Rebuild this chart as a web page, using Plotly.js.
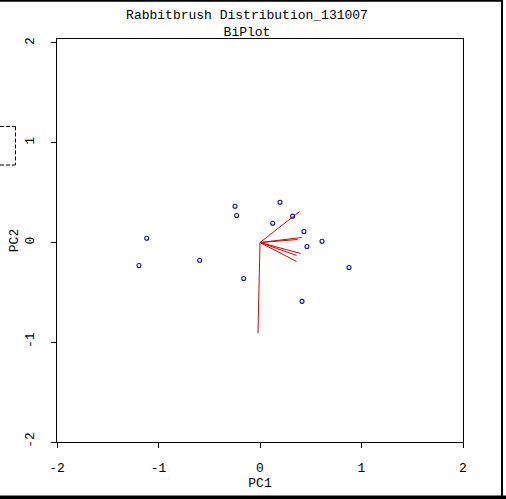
<!DOCTYPE html>
<html><head><meta charset="utf-8">
<script src="https://cdn.plot.ly/plotly-3.0.1.min.js"></script>
<style>html,body{margin:0;padding:0;background:#fff}#chart{width:506px;height:499px}</style>
</head><body><div id="chart"></div>
<script>
// Sample scores
const pc1 = [-0.246, -0.230, -1.116, -1.192, -0.594, 0.197, 0.322, 0.125, 0.433, 0.463, 0.611, 0.877, -0.161, 0.414];
const pc2 = [0.364, 0.271, 0.043, -0.231, -0.178, 0.404, 0.264, 0.193, 0.110, -0.040, 0.013, -0.251, -0.361, -0.590];
// Variable loading vectors (end points, from origin)
const load1 = [0.39, 0.41, 0.37, 0.40, 0.36, 0.36, -0.02];
const load2 = [0.31, 0.05, 0.03, -0.11, -0.13, -0.19, -0.91];
const tickVals = [-2, -1, 0, 1, 2];
const tickText = ['-2', '-1', '0', '1', '2'];

const vx = [], vy = [];
for (let i = 0; i < load1.length; i++) { vx.push(0, load1[i], null); vy.push(0, load2[i], null); }

const W = 506, H = 499, L = 57, R = 463, T = 39, B = 442;
const px = p => (p - L) / (R - L);
const py = p => (B - p) / (B - T);
const mono = 'Liberation Mono, Courier New, monospace';

const traces = [
  {x: vx, y: vy, mode: 'lines', line: {color: '#dd0000', width: 1}, hoverinfo: 'skip', showlegend: false},
  {x: pc1, y: pc2, mode: 'markers', marker: {symbol: 'circle-open', size: 4, color: '#10109a', line: {width: 1.1}}, showlegend: false}
];

const axisCommon = {
  tickvals: tickVals, ticktext: tickText, ticks: 'outside', ticklen: 5, tickcolor: '#000', tickwidth: 1,
  showline: true, mirror: true, linecolor: '#000', linewidth: 1,
  showgrid: false, zeroline: false,
  tickfont: {family: mono, size: 13, color: '#000'}
};

const dashLine = (x0, y0, x1, y1) => ({type: 'line', xref: 'paper', yref: 'paper', x0: px(x0), y0: py(y0), x1: px(x1), y1: py(y1),
  line: {color: '#000', width: 1, dash: '4px,2px'}});

const layout = {
  width: W, height: H,
  margin: {l: L, r: W - R, t: T, b: H - B},
  paper_bgcolor: '#fff', plot_bgcolor: '#fff',
  title: {text: 'Rabbitbrush Distribution_131007<br>BiPlot', font: {family: mono, size: 13, color: '#000'},
          x: 247 / W, xanchor: 'center', xref: 'container', y: 1 - 19 / H, yanchor: 'top', yref: 'container'},
  xaxis: Object.assign({}, axisCommon, {range: [-2, 2], ticklabelstandoff: 8,
          title: {text: 'PC1', font: {family: mono, size: 13, color: '#000'}, standoff: 2}}),
  yaxis: Object.assign({}, axisCommon, {range: [-2, 2.04], tickangle: -90, ticklabelstandoff: 12,
          title: {text: 'PC2', font: {family: mono, size: 13, color: '#000'}, standoff: 1}}),
  shapes: [
    {type: 'line', xref: 'paper', yref: 'paper', x0: px(0), x1: px(503), y0: py(0.7), y1: py(0.7), line: {color: '#000', width: 2}},
    {type: 'line', xref: 'paper', yref: 'paper', x0: px(502), x1: px(502), y0: py(0), y1: py(499), line: {color: '#000', width: 2}},
    {type: 'line', xref: 'paper', yref: 'paper', x0: px(0), x1: px(506), y0: py(497.5), y1: py(497.5), line: {color: '#000', width: 4}},
    dashLine(0, 126.5, 15.5, 126.5),
    dashLine(15.5, 126.5, 15.5, 165),
    dashLine(0, 165, 15.5, 165)
  ]
};

Plotly.newPlot('chart', traces, layout, {displayModeBar: false, staticPlot: true});
</script></body></html>
